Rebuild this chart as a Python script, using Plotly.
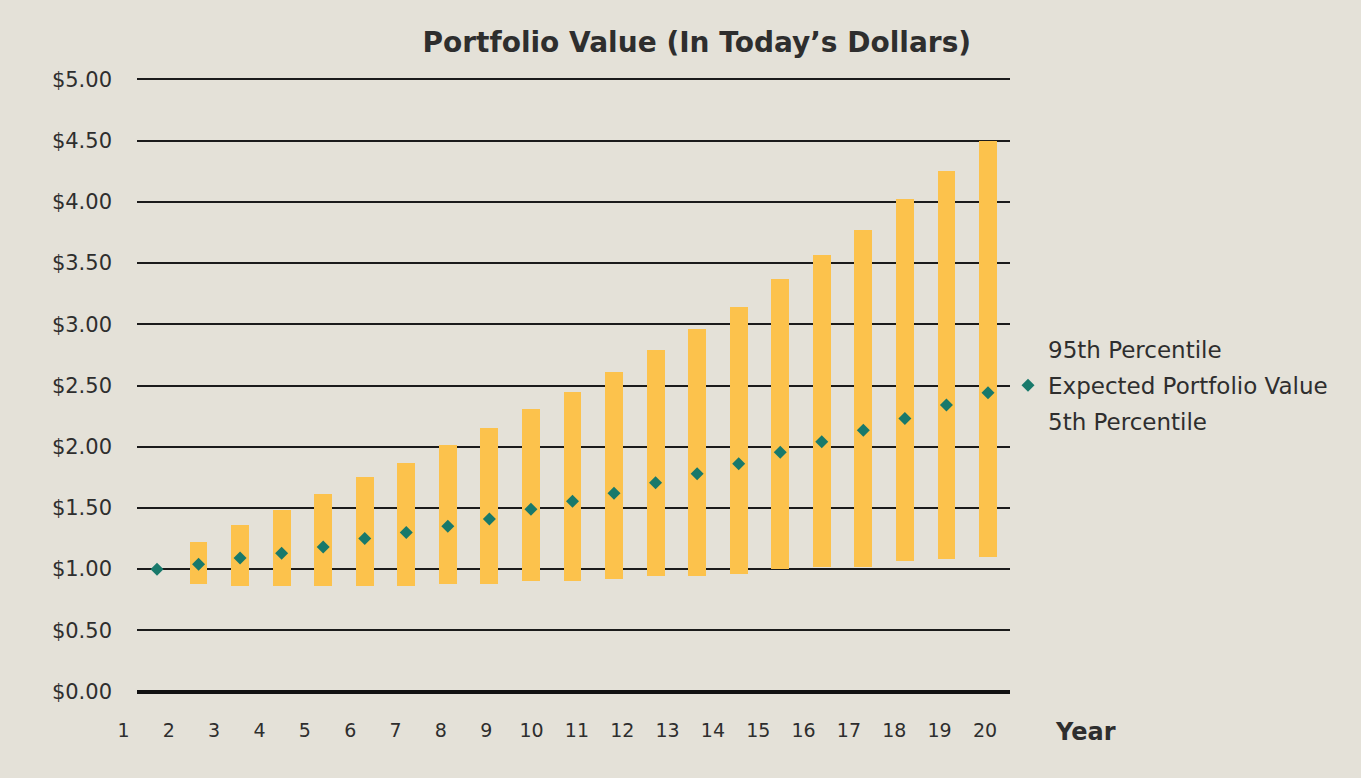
import plotly.graph_objects as go

# ---- data ----
periods = list(range(0, 21))                      # bar slots (start + 20 years)
year_labels = list(range(1, 21))                  # x tick labels shown under the axis
pct95 = [None, 1.22, 1.36, 1.48, 1.61, 1.75, 1.87, 2.01, 2.15, 2.31, 2.45,
         2.61, 2.79, 2.96, 3.14, 3.37, 3.57, 3.77, 4.02, 4.25, 4.50]
pct5 = [None, 0.88, 0.86, 0.86, 0.86, 0.86, 0.86, 0.88, 0.88, 0.90, 0.90,
        0.92, 0.94, 0.94, 0.96, 1.00, 1.02, 1.02, 1.07, 1.08, 1.10]
expected = [1.00, 1.04, 1.09, 1.13, 1.18, 1.25, 1.30, 1.35, 1.41, 1.49, 1.555,
            1.62, 1.705, 1.78, 1.86, 1.955, 2.04, 2.135, 2.23, 2.34, 2.44]
y_ticks = [0, 0.5, 1, 1.5, 2, 2.5, 3, 3.5, 4, 4.5, 5]

# ---- styles ----
BG = "#E4E1D8"
BAR = "#FCC24C"
TEAL = "#18796B"
TXT = "#2E2E2E"
FONT = "DejaVu Sans"

heights = [None if (u is None or l is None) else u - l for u, l in zip(pct95, pct5)]

fig = go.Figure()
fig.add_trace(go.Bar(
    x=periods, y=heights, base=pct5, width=0.43,
    marker=dict(color=BAR, line=dict(width=0)),
    showlegend=False, hoverinfo="skip",
))
fig.add_trace(go.Scatter(
    x=[None], y=[None], mode="markers", name="95th Percentile",
    marker=dict(color="rgba(0,0,0,0)", size=8), legendgroup="a",
))
fig.add_trace(go.Scatter(
    x=periods, y=expected, mode="markers", name="Expected Portfolio Value",
    marker=dict(symbol="diamond", color=TEAL, size=10), legendgroup="b",
))
fig.add_trace(go.Scatter(
    x=[None], y=[None], mode="markers", name="5th Percentile",
    marker=dict(color="rgba(0,0,0,0)", size=8), legendgroup="c",
))
# helper trace so the label axis (x2/y2) is rendered
fig.add_trace(go.Scatter(x=[None], y=[None], xaxis="x2", yaxis="y2",
                         showlegend=False, hoverinfo="skip"))

W_PAPER = 910.0
Y_RANGE = [-0.02, 5.02]
fig.update_layout(
    width=1361, height=778,
    paper_bgcolor=BG, plot_bgcolor="rgba(0,0,0,0)",
    margin=dict(l=100, r=351, t=77, b=84, pad=0),
    font=dict(family=FONT, color=TXT, size=17),
    title=dict(text="Portfolio Value (In Today’s Dollars)", xref="container",
               x=0.512, xanchor="center", y=0.946, yanchor="middle",
               font=dict(family=FONT, size=28, color=TXT, weight="bold")),
    bargap=0,
    xaxis=dict(domain=[37 / W_PAPER, 1], range=[-0.481, 20.53], anchor="y",
               showgrid=False, zeroline=False, showline=False,
               showticklabels=False, ticks=""),
    yaxis=dict(range=Y_RANGE, tickmode="array", tickvals=y_ticks,
               ticktext=["${:.2f}".format(v) for v in y_ticks], anchor="x",
               showgrid=True, gridcolor="#1B1B1B",
               gridwidth=2, zeroline=True, zerolinecolor="#111111",
               zerolinewidth=3.5, showline=False, ticks="",
               ticklabelstandoff=24, tickfont=dict(size=21, color=TXT)),
    xaxis2=dict(domain=[0, 1], anchor="y2", range=[0.482, 20.552],
                tickmode="array", tickvals=year_labels,
                ticktext=[str(v) for v in year_labels],
                showgrid=False, zeroline=False, showline=False, ticks="",
                ticklabelstandoff=23, tickfont=dict(size=19, color=TXT)),
    yaxis2=dict(range=Y_RANGE, anchor="x2", visible=False, showgrid=False,
                zeroline=False),
    legend=dict(x=(1008 - 100) / W_PAPER, xanchor="left", y=0.5,
                yanchor="middle", bgcolor="rgba(0,0,0,0)",
                font=dict(size=23, color=TXT), tracegroupgap=3,
                traceorder="grouped"),
    annotations=[dict(text="<b>Year</b>", xref="paper", yref="paper",
                      x=(1085 - 100) / W_PAPER, y=(694 - 732) / 617.0,
                      xanchor="center", yanchor="middle", showarrow=False,
                      font=dict(family=FONT, size=24, color=TXT))],
)

fig.write_html("out.html", config={"displayModeBar": False},
               post_script="document.body.style.margin='0';")
